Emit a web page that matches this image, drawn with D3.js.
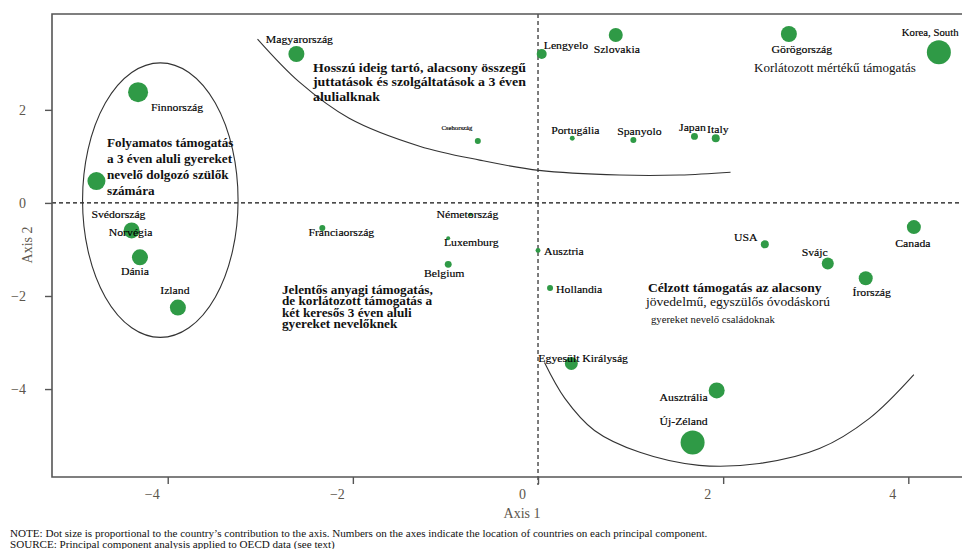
<!DOCTYPE html>
<html>
<head>
<meta charset="utf-8">
<script src="https://cdn.jsdelivr.net/npm/d3@7"></script>
<style>
  html, body { margin: 0; padding: 0; background: #fff; }
  svg { display: block; font-family: "Liberation Serif", "DejaVu Serif", serif; }
</style>
</head>
<body>
<svg id="chart" width="962" height="549"></svg>
<script>
// Country scores on the first two principal components
const countries = ["Finnország","Svédország","Norvégia","Dánia","Izland","Magyarország","Csehország","Lengyelo","Portugália","Szlovakia","Spanyolo","Japan","Italy","Görögország","Korea, South","Franciaország","Németország","Luxemburg","Belgium","Ausztria","Hollandia","Egyesült Királyság","USA","Svájc","Canada","Írország","Ausztrália","Új-Zéland"];
const axis1 = [-4.32,-4.77,-4.39,-4.30,-3.89,-2.61,-0.65,0.04,0.37,0.84,1.03,1.69,1.92,2.71,4.33,-2.33,-0.73,-0.97,-0.97,0.00,0.13,0.36,2.45,3.13,4.06,3.54,1.93,1.67];
const axis2 = [2.38,0.47,-0.59,-1.17,-2.25,3.20,1.33,3.20,1.39,3.61,1.35,1.43,1.39,3.63,3.24,-0.54,-0.25,-0.76,-1.32,-1.02,-1.83,-3.45,-0.89,-1.30,-0.52,-1.62,-4.03,-5.15];
// Contribution of each country to the axes (drives dot area)
const contribution = [10.0,8.1,6.4,6.4,6.4,6.4,0.9,2.5,0.6,4.9,0.9,1.2,1.6,6.4,14.4,0.9,0.3,0.4,1.2,0.6,0.9,4.2,1.6,3.6,4.9,4.9,6.4,14.4];

const xTicks = [-4, -2, 0, 2, 4];
const yTicks = [2, 0, -2, -4];

// Group boundaries in component space
const upperCurveX = [-3.03,-2.58,-2.04,-1.28,-0.63,0.01,0.88,1.53,2.08];
const upperCurveY = [3.52,2.60,1.82,1.22,0.92,0.70,0.60,0.60,0.66];
const lowerCurveX = [0.07,0.29,0.61,1.10,1.74,2.39,3.04,3.58,4.06];
const lowerCurveY = [-3.43,-4.20,-4.89,-5.36,-5.64,-5.60,-5.28,-4.63,-3.69];
const nordicEllipse = { cx: -4.08, cy: 0.06, rx: 0.84, ry: 2.95 };

const groupTitles = [
  ["Folyamatos támogatás", "a 3 éven aluli gyereket", "nevelő dolgozó szülők", "számára"],
  ["Hosszú ideig tartó, alacsony összegű", "juttatások és szolgáltatások a 3 éven", "alulialknak"],
  ["Jelentős anyagi támogatás,", "de korlátozott támogatás a", "két keresős 3 éven aluli", "gyereket nevelőknek"],
  ["Célzott támogatás az alacsony", "jövedelmű,  egyszülős óvodáskorú", "gyereket nevelő családoknak"],
  ["Korlátozott mértékű támogatás"]
];
const notes = [
  "NOTE: Dot size is proportional to the country’s contribution to the axis. Numbers on the axes indicate the location of countries on each principal component.",
  "SOURCE: Principal component analysis applied to OECD data (see text)"
];

// ---- layout ----
const plot = { left: 52, right: 962, top: 14, bottom: 477 };
const svg = d3.select("#chart");

const x = d3.scaleLinear().domain([-5.25, 4.58]).range([plot.left, plot.right]);
const y = d3.scaleLinear().domain([-5.89, 4.06]).range([plot.bottom, plot.top]);
const r = d3.scaleSqrt().domain([0, 14.4]).range([0, 12]);

const axisColor = "#555";
const tickText = "#5c564c";
const dotColor = "#2f9a46";
const wide = 1.12; // horizontal stretch for the book-style lettering

// label placement relative to each dot: [dx, dy, anchor, fontSize]
const labelPlacement = {
  "Finnország": [39, 15, "middle"], "Svédország": [22, 33, "middle"], "Norvégia": [-1, 2, "middle"],
  "Dánia": [-5, 14, "middle"], "Izland": [-3, -17, "middle"], "Magyarország": [3, -15, "middle"],
  "Csehország": [-21, -13, "middle", 6], "Lengyelo": [2, -9, "start"], "Portugália": [3, -8, "middle"],
  "Szlovakia": [1, 14, "middle"], "Spanyolo": [6, -9, "middle"], "Japan": [-2, -9, "middle"],
  "Italy": [2, -9, "middle"], "Görögország": [13, 15, "middle"], "Korea, South": [-37, -19, "start", 9.6],
  "Franciaország": [19, 4, "middle"], "Németország": [-3, 0, "middle"], "Luxemburg": [23, 4, "middle"],
  "Belgium": [-4, 9, "middle"], "Ausztria": [6, 1, "start"], "Hollandia": [6, 1, "start"],
  "Egyesült Királyság": [-33, -5, "start"], "USA": [-19, -7, "middle"], "Svájc": [-13, -11, "middle"],
  "Canada": [-1, 16, "middle"], "Írország": [6, 14, "middle"], "Ausztrália": [-33, 7, "middle"],
  "Új-Zéland": [-9, -21, "middle"]
};

// ---- reference lines at zero ----
svg.append("line")
  .attr("x1", plot.left).attr("x2", plot.right)
  .attr("y1", y(0)).attr("y2", y(0))
  .attr("stroke", "#111").attr("stroke-width", 1.1).attr("stroke-dasharray", "4,3");
svg.append("line")
  .attr("x1", x(0)).attr("x2", x(0))
  .attr("y1", plot.top).attr("y2", plot.bottom + 8)
  .attr("stroke", "#111").attr("stroke-width", 1.1).attr("stroke-dasharray", "4,3");

// ---- axes ----
const xAxis = svg.append("g").attr("transform", `translate(0,${plot.bottom})`)
  .call(d3.axisBottom(x).tickValues(xTicks).tickSize(7).tickSizeOuter(0).tickFormat(d3.format("d")));
xAxis.select(".domain").remove();
xAxis.selectAll("line").attr("stroke", axisColor).attr("stroke-width", 1.4);
xAxis.selectAll("text").attr("dx", -16).attr("y", 12)
  .attr("fill", tickText).attr("font-size", 14).attr("font-family", "Liberation Serif, serif");

const yAxis = svg.append("g").attr("transform", `translate(${plot.left},0)`)
  .call(d3.axisLeft(y).tickValues(yTicks).tickSize(7).tickSizeOuter(0).tickFormat(d3.format("d")));
yAxis.select(".domain").remove();
yAxis.selectAll("line").attr("stroke", axisColor).attr("stroke-width", 1.4);
yAxis.selectAll("text").attr("x", -26)
  .attr("fill", tickText).attr("font-size", 14).attr("font-family", "Liberation Serif, serif");

// frame: left, bottom and top rules
svg.append("path")
  .attr("d", `M${plot.right},${plot.top}H${plot.left}V${plot.bottom}H${plot.right}`)
  .attr("fill", "none").attr("stroke", axisColor).attr("stroke-width", 1.6);

svg.append("text").attr("x", 522).attr("y", 518).attr("text-anchor", "middle")
  .attr("font-size", 14).attr("fill", tickText).text("Axis 1");
svg.append("text").attr("transform", `translate(32,245) rotate(-90)`).attr("text-anchor", "middle")
  .attr("font-size", 14).attr("fill", tickText).text("Axis 2");

// ---- group boundaries ----
const curve = d3.line().x(d => x(d[0])).y(d => y(d[1])).curve(d3.curveCatmullRom.alpha(0.5));
svg.append("path").datum(d3.zip(upperCurveX, upperCurveY)).attr("d", curve)
  .attr("fill", "none").attr("stroke", "#333").attr("stroke-width", 1.1);
svg.append("path").datum(d3.zip(lowerCurveX, lowerCurveY)).attr("d", curve)
  .attr("fill", "none").attr("stroke", "#333").attr("stroke-width", 1.1);
svg.append("ellipse")
  .attr("cx", x(nordicEllipse.cx)).attr("cy", y(nordicEllipse.cy))
  .attr("rx", x(nordicEllipse.cx + nordicEllipse.rx) - x(nordicEllipse.cx))
  .attr("ry", y(nordicEllipse.cy) - y(nordicEllipse.cy + nordicEllipse.ry))
  .attr("fill", "none").attr("stroke", "#333").attr("stroke-width", 1.1);

// ---- countries ----
const rows = countries.map((c, i) => ({ name: c, a1: axis1[i], a2: axis2[i], w: contribution[i] }));

svg.append("g").selectAll("circle").data(rows).join("circle")
  .attr("cx", d => x(d.a1)).attr("cy", d => y(d.a2)).attr("r", d => r(d.w))
  .attr("fill", dotColor);

svg.append("g").selectAll("text").data(rows).join("text")
  .attr("transform", d => `translate(${x(d.a1) + labelPlacement[d.name][0]},${y(d.a2) + labelPlacement[d.name][1]}) scale(${wide},1)`)
  .attr("text-anchor", d => labelPlacement[d.name][2])
  .attr("dominant-baseline", "central")
  .attr("font-size", d => labelPlacement[d.name][3] || 10.5)
  .attr("fill", "#000")
  .attr("stroke", "#000").attr("stroke-width", 0.15)
  .text(d => d.name);

// ---- group descriptions ----
const titleLayout = [
  { x: 107, y: 147, lh: 16, size: 12, sx: 1.10, weight: ["bold"] },
  { x: 313, y: 72, lh: 14.5, size: 12.5, sx: 1.11, weight: ["bold"] },
  { x: 282, y: 294, lh: 11.5, size: 11.5, sx: 1.15, weight: ["bold"] },
  { x: 648, y: 292, lh: 14, size: 12, sx: 1.13, weight: ["bold", "normal", "normal"], sizes: [12, 12, 9.5], dxs: [0, -2, 3], dys: [0, 14, 31] },
  { x: 754, y: 72, lh: 14, size: 12, sx: 1.09, weight: ["normal"] }
];
groupTitles.forEach((lines, gi) => {
  const L = titleLayout[gi];
  const g = svg.append("g").attr("transform", `translate(${L.x},${L.y}) scale(${L.sx},1)`);
  lines.forEach((t, li) => {
    g.append("text")
      .attr("x", (L.dxs ? L.dxs[li] : 0) / L.sx)
      .attr("y", L.dys ? L.dys[li] : li * L.lh)
      .attr("font-size", L.sizes ? L.sizes[li] : L.size)
      .attr("font-weight", L.weight[li] || L.weight[0])
      .attr("fill", "#111")
      .text(t);
  });
});

// ---- notes ----
notes.forEach((t, i) => {
  svg.append("text").attr("transform", `translate(10,${537 + i * 11}) scale(1.11,1)`)
    .attr("font-size", 10).attr("fill", "#111").text(t);
});
</script>
</body>
</html>
